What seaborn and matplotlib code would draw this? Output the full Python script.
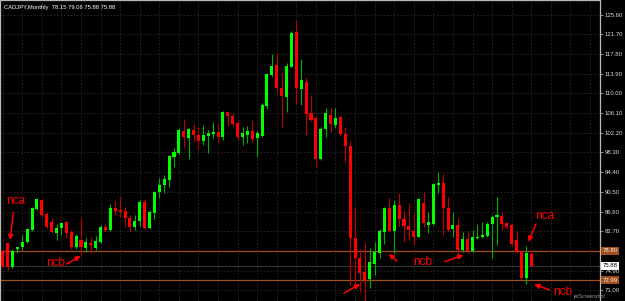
import numpy as np
import pandas as pd
import matplotlib
matplotlib.use("Agg")
import matplotlib.pyplot as plt
from matplotlib import transforms
import seaborn as sns

# ---------------- data (CADJPY monthly) ----------------
opens = [78.79, 80.28, 75.53, 79.13, 79.58, 80.57, 82.95, 87.11, 88.89, 86.02,
         84.53, 82.30, 83.29, 84.44, 82.55, 79.58, 80.97, 79.33, 80.38, 79.33,
         80.63, 83.60, 82.95, 87.25, 86.91, 86.71, 85.39, 83.48, 84.73, 88.55,
         83.29, 86.38, 90.41, 91.86, 92.85, 97.40, 98.26, 102.61, 101.11, 102.75,
         101.76, 100.63, 101.62, 102.02, 102.35, 101.30, 106.25, 105.52, 104.19, 101.42,
         101.76, 102.55, 101.11, 101.62, 107.50, 113.64, 115.62, 111.13, 109.34, 115.28,
         122.10, 110.87, 112.31, 106.06, 105.19, 97.01, 102.95, 105.72, 103.74, 105.32,
         101.96, 99.58, 81.31, 77.35, 74.69, 73.25, 76.28, 78.45, 82.61, 87.37,
         82.81, 87.90, 85.13, 83.80, 82.75, 81.62, 88.24, 83.88, 84.14, 91.86,
         92.20, 87.37, 83.09, 83.94, 78.99, 81.17, 78.79, 81.42, 81.62, 81.76,
         84.08, 85.58, 85.78, 84.28, 83.94, 80.97, 78.53, 73.39, 78.15]
highs = [79.19, 80.67, 79.09, 79.68, 81.96, 83.35, 87.60, 89.29, 89.09, 86.61,
         85.33, 84.14, 84.53, 84.73, 82.95, 82.16, 85.33, 81.37, 81.62, 81.76,
         83.94, 84.14, 88.10, 88.69, 89.68, 87.56, 85.92, 85.92, 88.89, 89.09,
         86.91, 90.67, 93.19, 93.84, 97.80, 99.25, 103.09, 104.93, 103.21, 103.88,
         103.40, 103.74, 102.75, 104.39, 104.19, 106.45, 106.41, 106.06, 104.73, 103.29,
         103.54, 104.73, 102.61, 108.10, 113.98, 117.80, 118.06, 114.29, 116.08, 122.35,
         124.53, 116.75, 112.99, 109.68, 105.52, 103.34, 107.05, 107.05, 107.05, 105.52,
         103.40, 100.57, 87.56, 79.19, 80.43, 79.44, 80.63, 83.15, 87.56, 89.35,
         88.89, 90.22, 86.71, 88.24, 86.26, 89.29, 90.53, 86.58, 92.26, 94.49,
         93.98, 89.48, 86.45, 85.27, 82.55, 82.61, 82.95, 84.08, 84.48, 84.53,
         85.82, 89.54, 86.58, 84.59, 84.14, 82.61, 78.99, 79.78, 79.06]
lows = [75.43, 75.03, 75.33, 78.40, 78.99, 80.38, 82.75, 86.91, 85.58, 83.25,
        82.26, 80.97, 81.96, 81.37, 79.19, 79.19, 78.00, 78.65, 78.34, 78.99,
        80.38, 82.55, 82.75, 85.92, 85.58, 83.60, 82.61, 82.95, 83.80, 83.15,
        83.15, 85.13, 89.35, 90.34, 91.52, 95.48, 98.00, 99.13, 97.01, 100.43,
        98.99, 99.78, 98.26, 101.11, 100.37, 100.77, 103.54, 103.54, 100.77, 99.78,
        100.12, 100.43, 97.34, 101.36, 106.91, 113.18, 110.33, 103.29, 106.37, 115.22,
        107.90, 107.70, 101.76, 104.53, 95.48, 96.81, 101.42, 102.29, 103.09, 101.56,
        96.47, 72.06, 71.41, 70.73, 68.89, 71.41, 74.04, 77.35, 80.12, 82.75,
        78.34, 83.80, 80.63, 80.97, 79.98, 81.47, 83.60, 82.30, 83.94, 90.22,
        81.96, 82.75, 81.62, 78.14, 78.59, 78.34, 78.59, 81.17, 81.42, 81.56,
        77.35, 79.98, 82.95, 83.15, 79.98, 78.34, 73.25, 72.20, 75.88]
closes = [75.82, 75.53, 78.85, 79.58, 80.57, 83.05, 87.31, 89.09, 85.82, 83.45,
          82.55, 83.41, 84.39, 82.30, 79.58, 81.76, 79.58, 80.57, 79.98, 80.77,
          83.60, 82.95, 87.25, 86.77, 86.58, 85.39, 83.48, 84.73, 88.55, 83.29,
          86.45, 90.53, 91.86, 93.05, 97.60, 98.45, 102.75, 101.42, 102.89, 101.76,
          100.63, 101.76, 102.22, 102.41, 101.30, 106.31, 105.46, 104.00, 101.30, 102.10,
          102.55, 100.97, 102.10, 107.70, 113.84, 115.48, 111.13, 109.54, 115.42, 122.02,
          111.13, 112.65, 105.92, 104.73, 97.01, 102.95, 106.06, 103.88, 105.07, 101.96,
          99.52, 81.31, 77.35, 74.38, 73.05, 76.67, 78.65, 82.81, 87.25, 82.75,
          87.90, 85.07, 83.74, 82.95, 81.62, 89.09, 84.28, 84.48, 92.06, 92.20,
          87.25, 82.95, 83.94, 78.99, 81.17, 78.79, 81.62, 81.62, 81.96, 84.08,
          85.58, 85.92, 84.08, 83.48, 80.18, 78.53, 73.39, 78.34, 75.88]

price_ticks = [71.00, 74.90, 78.80, 82.70, 86.60, 90.50, 94.40, 98.30, 102.20,
               106.10, 110.00, 113.90, 117.80, 121.70, 125.60]
level_high = 78.80
level_low = 72.99
last_price = 75.88
title_text = "CADJPY,Monthly  78.15 79.06 75.88 75.88"

df = pd.DataFrame({"open": opens, "high": highs, "low": lows, "close": closes})
df["idx"] = np.arange(len(df))
df["up"] = df["close"] >= df["open"]

# ---------------- style ----------------
sns.set_theme(style="dark", rc={"axes.facecolor": "black", "figure.facecolor": "black"})
plt.rcParams["font.family"] = ["Liberation Sans", "DejaVu Sans"]

W, H = 625, 301
fig = plt.figure(figsize=(W / 100, H / 100), dpi=100)
ax = fig.add_axes([0, 0, 600 / W, 1])
ax.set_facecolor("black")

bull, bear = "#00ff00", "#ff0000"
wick_bull, wick_bear = "#00b000", "#c00000"

# wicks
for up, wc in ((True, wick_bull), (False, wick_bear)):
    d = df[df["up"] == up]
    ax.vlines(d["idx"], d["low"], d["high"], colors=wc, lw=0.8, zorder=3)

# bodies
bottoms = np.minimum(df["open"], df["close"])
heights = np.maximum(np.abs(df["close"] - df["open"]), 0.15)
ax.bar(df["idx"], heights, bottom=bottoms, width=0.62,
       color=np.where(df["up"], bull, bear), linewidth=0, zorder=4)

# limits (pixel geometry of the MT4 window)
ax.set_xlim(-0.552, 122.05)
ax.set_ylim(68.89, 128.49)

# grid
for gx in range(0, 123, 4):
    ax.axvline(gx, color="#2a2a2a", lw=0.6, ls=(0, (2, 2)), zorder=1)
for gy in price_ticks:
    ax.axhline(gy, color="#2a2a2a", lw=0.6, ls=(0, (2, 2)), zorder=1)
ax.grid(False)

# level lines
ax.axhline(level_high, color="#a0501e", lw=0.9, zorder=2)
ax.axhline(level_low, color="#a0501e", lw=0.9, zorder=2)
ax.axhline(last_price, color="#353535", lw=0.8, zorder=2)

# spines / ticks
ax.spines["bottom"].set_visible(False)
for s in ("top", "left", "right"):
    ax.spines[s].set_visible(True)
    ax.spines[s].set_color("#b8b8b8")
    ax.spines[s].set_linewidth(0.9)
ax.set_xticks([])
ax.yaxis.tick_right()
ax.set_yticks(price_ticks)
# the 78.80 label is covered by the level box on the axis
ax.set_yticklabels(["" if abs(v - level_high) < 1e-9 else f"{v:.2f}" for v in price_ticks])
ax.tick_params(axis="y", which="major", length=2.2, width=0.7, color="#6a8cd0",
               labelsize=4.3, labelcolor="#dcdcdc", pad=1.2, right=True, left=False)

# right-axis price boxes
trans = transforms.blended_transform_factory(ax.transAxes, ax.transData)
ax.text(1.004, level_high, f"{level_high:.2f}", transform=trans, fontsize=4.3,
        color="#f0f0f0", va="center", ha="left",
        bbox=dict(boxstyle="square,pad=0.25", fc="#a0501e", ec="none"), zorder=10, clip_on=False)
ax.text(1.004, level_low, f"{level_low:.2f}", transform=trans, fontsize=4.3,
        color="#f0f0f0", va="center", ha="left",
        bbox=dict(boxstyle="square,pad=0.25", fc="#a0501e", ec="none"), zorder=10, clip_on=False)
ax.text(1.004, last_price, f"{last_price:.2f}", transform=trans, fontsize=4.3,
        color="black", va="center", ha="left",
        bbox=dict(boxstyle="square,pad=0.25", fc="white", ec="none"), zorder=11, clip_on=False)

# title
ax.text(0.006, 0.985, title_text, transform=ax.transAxes, fontsize=4.2,
        color="white", va="top", ha="left", zorder=10)

# annotations
red = "#ff0000"
tk = dict(color=red, fontsize=8.5, ha="center", va="center", zorder=12)
ax.text(2.72, 88.69, "nca", **tk)
ax.text(10.9, 76.4, "ncb", **tk)
ax.text(85.9, 76.6, "ncb", **tk)
ax.text(110.8, 85.7, "nca", **tk)
ax.text(114.5, 70.7, "ncb", **tk)

ap = dict(arrowstyle="-|>", color=red, lw=1.1, mutation_scale=7, shrinkA=0, shrinkB=0)
arrows = [((2.17, 86.32), (1.49, 80.97)),
          ((13.08, 76.22), (15.94, 77.8)),
          ((69.7, 70.42), (73.0, 72.26)),
          ((80.6, 76.8), (78.9, 78.2)),
          ((90.38, 76.68), (94.12, 78.0)),
          ((108.97, 84.14), (107.4, 80.63)),
          ((111.8, 71.07), (108.6, 72.2))]
for start, end in arrows:
    ax.annotate("", xy=end, xytext=start, arrowprops=ap, zorder=12)

# watermark
fig.text(574 / W, 1 - 296.5 / H, "jetScreenshot", fontsize=3.8, color="#9a9a9a",
         style="italic", va="center", ha="left")

fig.savefig("out.png", dpi=100, facecolor="black")
